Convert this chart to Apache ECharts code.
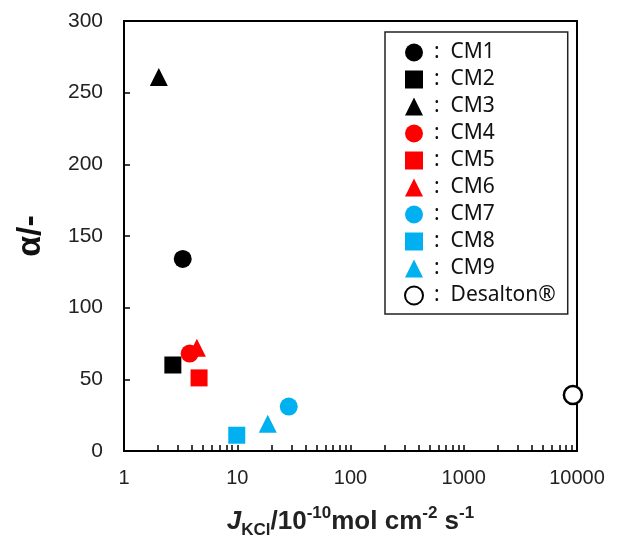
<!DOCTYPE html>
<html lang="en">
<head>
    <meta charset="UTF-8">
    <title>alpha vs JKCl</title>
    <script src="https://cdn.jsdelivr.net/npm/echarts@6/dist/echarts.min.js"></script>
</head>
<body style="margin:0;">
    <div id="main" style="width:621px;height:540px;"></div>
<script>
    // membrane names, flux (log x) and alpha (y)
    var names = ['CM1', 'CM2', 'CM3', 'CM4', 'CM5', 'CM6', 'CM7', 'CM8', 'CM9', 'Desalton®'];
    var jkcl = [3.3, 2.7, 2.03, 3.8, 4.6, 4.4, 28.5, 9.9, 18.6, 9200];
    var alpha = [134, 60, 261, 68, 51, 72, 31, 11, 19, 39];
    var symbols = ['circle', 'rect', 'triangle', 'circle', 'rect', 'triangle', 'circle', 'rect', 'triangle', 'circle'];
    var colors = ['#000000', '#000000', '#000000', '#ff0000', '#ff0000', '#ff0000', '#00b0f0', '#00b0f0', '#00b0f0', '#ffffff'];
    var xTicks = [1, 10, 100, 1000, 10000];
    var minorTicks = [];
    xTicks.forEach(function (d) {
        for (var k = 1; k < 10; k++) {
            if (d * k <= 10000) minorTicks.push(d * k);
        }
    });

    var numFont = 'Liberation Sans, Arial, sans-serif';

    var series = names.map(function (n, i) {
        var hollow = n === 'Desalton®';
        return {
            name: n,
            type: 'scatter',
            symbol: symbols[i],
            symbolSize: symbols[i] === 'rect' ? 17 : 18,
            itemStyle: {
                color: colors[i],
                borderColor: hollow ? '#000' : colors[i],
                borderWidth: hollow ? 2.5 : 0,
                opacity: 1
            },
            data: [[jkcl[i], alpha[i]]]
        };
    });

    var chart = echarts.init(document.getElementById('main'));
    chart.setOption({
        backgroundColor: '#fff',
        animation: false,
        grid: {
            left: 124, right: 44, top: 21, bottom: 89,
            outerBoundsMode: 'none', containLabel: false,
            show: true, borderColor: '#000', borderWidth: 2
        },
        legend: {
            orient: 'vertical',
            left: 385,
            top: 32,
            padding: [10, 12, 8, 19],
            itemWidth: 18,
            itemHeight: 18,
            itemGap: 6,
            borderColor: '#222',
            borderWidth: 1.5,
            formatter: function (n) { return ':  ' + n; },
            textStyle: { fontFamily: 'Noto Sans', fontSize: 21, color: '#111', padding: [0, 0, 0, 6] },
            data: names
        },
        xAxis: {
            type: 'log',
            logBase: 10,
            min: 1,
            max: 10000,
            axisLine: { lineStyle: { color: '#000', width: 2 } },
            axisTick: { inside: true, length: 6, lineStyle: { color: '#000', width: 1.5 }, customValues: minorTicks },
            axisLabel: { fontFamily: numFont, fontSize: 20, color: '#222', margin: 17, formatter: function (v) { return String(v); } },
            splitLine: { show: false },
            name: '{j|J}{sub|KCl}{b|/10}{sup|-10}{b|mol cm}{sup|-2}{b| s}{sup|-1}',
            nameLocation: 'middle',
            nameGap: 54,
            nameTextStyle: {
                rich: {
                    j: { fontFamily: numFont, fontSize: 26, fontWeight: 'bold', fontStyle: 'italic', color: '#222', lineHeight: 34 },
                    b: { fontFamily: numFont, fontSize: 26, fontWeight: 'bold', color: '#222', lineHeight: 34 },
                    sub: { fontFamily: numFont, fontSize: 17, fontWeight: 'bold', color: '#222', verticalAlign: 'bottom', lineHeight: 34 },
                    sup: { fontFamily: numFont, fontSize: 17, fontWeight: 'bold', color: '#222', verticalAlign: 'top', lineHeight: 34 }
                }
            }
        },
        yAxis: {
            type: 'value',
            min: 0,
            max: 300,
            interval: 50,
            axisLine: { show: true, lineStyle: { color: '#000', width: 2 } },
            axisTick: { show: true, inside: true, length: 6, lineStyle: { color: '#000', width: 1.5 } },
            axisLabel: { fontFamily: numFont, fontSize: 21, color: '#222', margin: 21 },
            splitLine: { show: false },
            name: 'α/-',
            nameLocation: 'middle',
            nameGap: 76,
            nameTextStyle: { fontFamily: numFont, fontSize: 34, fontWeight: 'bold', color: '#111' }
        },
        series: series
    });
</script>
</body>
</html>
